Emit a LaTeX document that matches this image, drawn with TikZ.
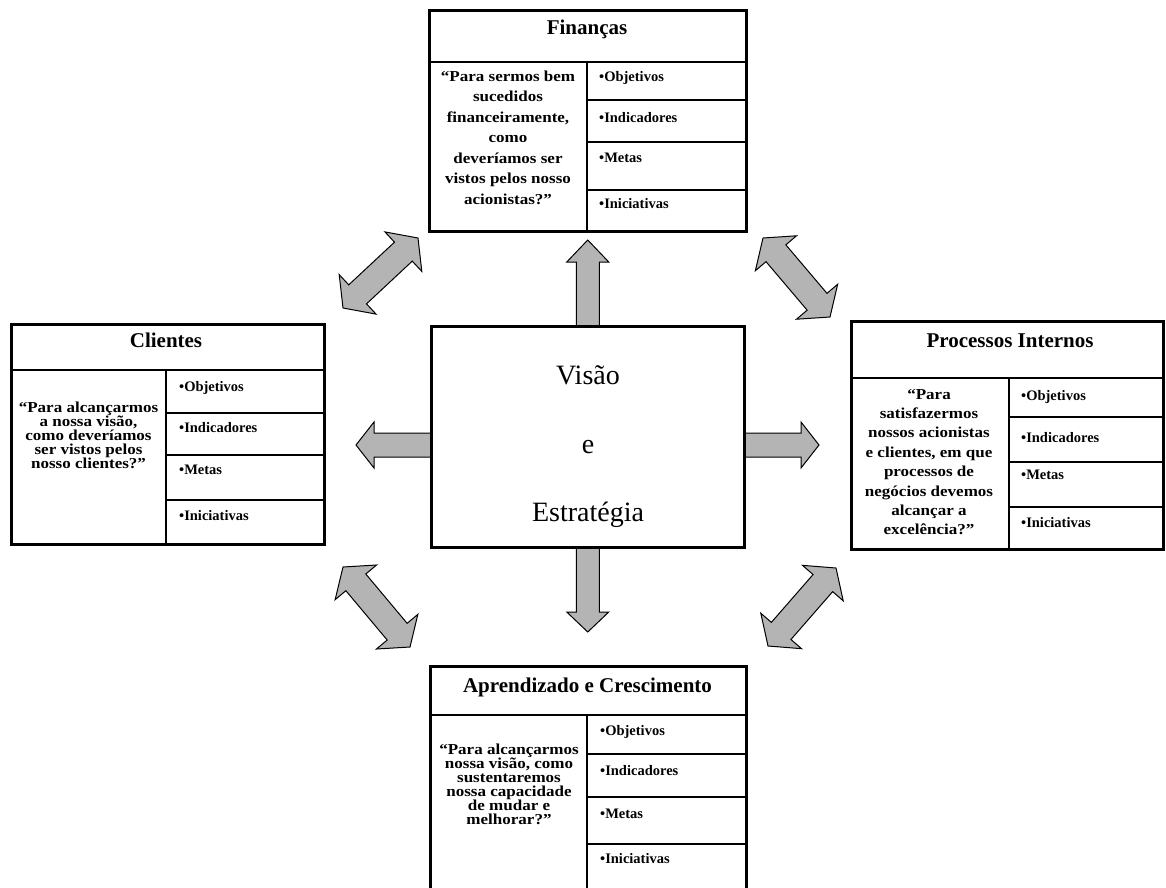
\documentclass[tikz,border=0pt]{standalone}
\usepackage{fontspec}
\setmainfont{Liberation Serif}
\newfontfamily\wideserif[FakeStretch=1.12]{Liberation Serif}
\usetikzlibrary{calc}

\definecolor{arrowfill}{RGB}{180,180,180}

\tikzset{
  frame/.style={draw, line width=3pt, fill=white, rectangle, inner sep=0pt, outer sep=0pt},
  grid/.style={line width=1.6pt},
  arrowbody/.style={draw=black, line width=1pt, fill=arrowfill, line join=miter},
  heading/.style={font=\fontsize{21}{24}\selectfont\bfseries, anchor=base, inner sep=0pt},
  item/.style={font=\fontsize{14.5}{16}\selectfont\bfseries, anchor=base west, inner sep=0pt},
  question/.style={align=center, inner sep=0pt, font=\wideserif\fontsize{15.2}{#1}\selectfont\bfseries},
  centretext/.style={align=center, inner sep=0pt, font=\fontsize{28}{68.5}\selectfont},
}

% single block arrow: #1 tail, #2 tip, #3 shaft half width, #4 head half width, #5 head length
\newcommand\blockarrow[5]{%
  \coordinate (ba-h) at ($(#2)!#5!(#1)$);
  \draw[arrowbody] ($(#1)!#3!90:(#2)$) -- ($(ba-h)!#3!90:(#2)$) -- ($(ba-h)!#4!90:(#2)$)
    -- (#2) -- ($(ba-h)!#4!-90:(#2)$) -- ($(ba-h)!#3!-90:(#2)$) -- ($(#1)!#3!-90:(#2)$) -- cycle;}

% double block arrow between tips #1 and #2
\newcommand\dblarrow[5]{%
  \coordinate (ba-h1) at ($(#1)!#5!(#2)$);
  \coordinate (ba-h2) at ($(#2)!#5!(#1)$);
  \draw[arrowbody] (#1) -- ($(ba-h1)!#4!90:(#2)$) -- ($(ba-h1)!#3!90:(#2)$)
    -- ($(ba-h2)!#3!90:(#2)$) -- ($(ba-h2)!#4!90:(#2)$) -- (#2)
    -- ($(ba-h2)!#4!-90:(#2)$) -- ($(ba-h2)!#3!-90:(#2)$)
    -- ($(ba-h1)!#3!-90:(#2)$) -- ($(ba-h1)!#4!-90:(#2)$) -- cycle;}

% inner rules of a perspective box: #1 node, #2 header y, #3 column x, #4-#6 row lines
\newcommand\boxgrid[6]{%
  \draw[grid] (#1.west |- 0,#2) -- (#1.east |- 0,#2);
  \draw[grid] (#3,#2) -- (#3,#2 |- #1.south);
  \foreach \r in {#4,#5,#6} \draw[grid] (#3,\r) -- (#1.east |- 0,\r);}

% the four list entries: #1 prefix, #2 x, #3-#6 baselines
\newcommand\boxitems[6]{%
  \node[item] (#1-obj) at (#2,#3) {•Objetivos};
  \node[item] (#1-ind) at (#2,#4) {•Indicadores};
  \node[item] (#1-met) at (#2,#5) {•Metas};
  \node[item] (#1-ini) at (#2,#6) {•Iniciativas};}

\begin{document}
\begin{tikzpicture}[x=1pt, y=-1pt]
\path[use as bounding box, fill=white] (0,0) rectangle (1166,887);

% centre box first (so arrow tails can be tied to it)
\node[frame, minimum width=312.5pt, minimum height=220.5pt] (vis) at (587.75,436.75) {};

% straight arrows out of the centre
\coordinate (up-a) at (vis.north);
\coordinate (up-b) at (587.75,240);
\coordinate (dn-a) at (vis.south);
\coordinate (dn-b) at (587.75,632);
\coordinate (lf-a) at (vis.west |- 0,445);
\coordinate (lf-b) at (356,445);
\coordinate (rt-a) at (vis.east |- 0,445);
\coordinate (rt-b) at (819,445);
\blockarrow{up-a}{up-b}{11.5pt}{21pt}{22pt}
\blockarrow{dn-a}{dn-b}{11.5pt}{21pt}{20pt}
\blockarrow{lf-a}{lf-b}{12pt}{23pt}{18pt}
\blockarrow{rt-a}{rt-b}{12pt}{23pt}{18pt}

% centre box drawn again on top of the arrow tails
\node[frame, minimum width=312.5pt, minimum height=220.5pt] (vis2) at (vis.center) {};
\node[centretext] (vis-t) at (588,447) {Visão\\e\\Estratégia};

% diagonal double arrows between neighbouring perspectives
\coordinate (ul-a) at (343,308);
\coordinate (ul-b) at (418,238);
\coordinate (ur-a) at (763,238);
\coordinate (ur-b) at (830,317);
\coordinate (ll-a) at (343,567);
\coordinate (ll-b) at (410,647);
\coordinate (lr-a) at (768,646);
\coordinate (lr-b) at (836,568);
\dblarrow{ul-a}{ul-b}{13pt}{27pt}{20pt}
\dblarrow{ur-a}{ur-b}{13pt}{27pt}{20pt}
\dblarrow{ll-a}{ll-b}{13pt}{27pt}{20pt}
\dblarrow{lr-a}{lr-b}{13pt}{27pt}{20pt}

% Finanças
\node[frame, minimum width=316.5pt, minimum height=221pt] (fin) at (587.75,120.5) {};
\boxgrid{fin}{62}{587}{100}{142}{190}
\node[heading] (fin-t) at (587,34.5) {Finanças};
\node[question=20.5pt] (fin-q) at (508,137.5)
  {“Para sermos bem\\sucedidos\\financeiramente,\\como\\deveríamos ser\\vistos pelos nosso\\acionistas?”};
\boxitems{fin}{599}{81}{122}{162}{208}

% Clientes
\node[frame, minimum width=312.5pt, minimum height=219.5pt] (cli) at (167.75,434.25) {};
\boxgrid{cli}{370}{166}{413}{455}{500}
\node[heading] (cli-t) at (166,347) {Clientes};
\node[question=14pt] (cli-q) at (88.5,435)
  {“Para alcançarmos\\a nossa visão,\\como deveríamos\\ser vistos pelos\\nosso clientes?”};
\boxitems{cli}{179}{391}{432}{474}{520}

% Processos Internos
\node[frame, minimum width=311.5pt, minimum height=228pt] (pro) at (1007.25,435) {};
\boxgrid{pro}{378}{1009}{417}{462}{507}
\node[heading] (pro-t) at (1010,347) {Processos Internos};
\node[question=19.4pt] (pro-q) at (929,462)
  {“Para\\satisfazermos\\nossos acionistas\\e clientes, em que\\processos de\\negócios devemos\\alcançar a\\excelência?”};
\boxitems{pro}{1021}{400}{442}{479}{527}

% Aprendizado e Crescimento
\node[frame, minimum width=315.5pt, minimum height=226pt] (apr) at (588.25,779) {};
\boxgrid{apr}{715}{587}{754}{797}{844}
\node[heading] (apr-t) at (587.5,692) {Aprendizado e Crescimento};
\node[question=14pt] (apr-q) at (509,784)
  {“Para alcançarmos\\nossa visão, como\\sustentaremos\\nossa capacidade\\de mudar e\\melhorar?”};
\boxitems{apr}{600}{735}{775}{818}{863}
\end{tikzpicture}
\end{document}
